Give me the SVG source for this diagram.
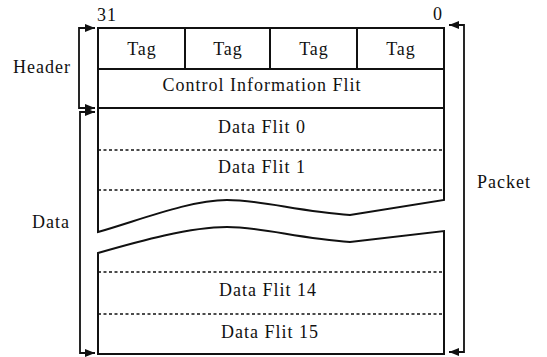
<svg xmlns="http://www.w3.org/2000/svg" width="547" height="357" viewBox="0 0 547 357">
<style>
  text { font-family: "Liberation Serif", "Times New Roman", serif; font-size: 18px; letter-spacing: 1px; fill: #111; }
  .c { text-anchor: middle; }
  .box { fill: none; stroke: #111; stroke-width: 2; stroke-linejoin: miter; }
  .dash { fill: none; stroke: #111; stroke-width: 1.4; stroke-dasharray: 3 2.5; }
  .br { fill: none; stroke: #111; stroke-width: 1.8; }
</style>
<defs>
  <marker id="ah" viewBox="0 0 10 8" refX="10" refY="4" markerWidth="11" markerHeight="8" markerUnits="userSpaceOnUse" orient="auto-start-reverse">
    <path d="M0,0 L10,4 L0,8 z" fill="#111"/>
  </marker>
</defs>
<rect width="547" height="357" fill="#fff"/>

<g id="bitlabels">
  <text x="97" y="21">31</text>
  <text x="433" y="20">0</text>
</g>

<g id="header">
  <rect class="box" x="98" y="28" width="346" height="80"/>
  <line class="box" x1="98" y1="69" x2="444" y2="69"/>
  <line class="box" x1="185" y1="28" x2="185" y2="69"/>
  <line class="box" x1="270" y1="28" x2="270" y2="69"/>
  <line class="box" x1="357" y1="28" x2="357" y2="69"/>
  <text class="c" x="142" y="55">Tag</text>
  <text class="c" x="228" y="55">Tag</text>
  <text class="c" x="314" y="55">Tag</text>
  <text class="c" x="401" y="55">Tag</text>
  <text class="c" x="262" y="91">Control Information Flit</text>
</g>

<g id="data-top">
  <path class="box" d="M98,108 V232 C140,220 190,200 227,200 C262,200 300,212 350,215 L444,200 V108"/>
  <line class="dash" x1="98" y1="150" x2="444" y2="150"/>
  <line class="dash" x1="98" y1="190" x2="444" y2="190"/>
  <text class="c" x="262" y="133">Data Flit 0</text>
  <text class="c" x="262" y="173">Data Flit 1</text>
</g>

<g id="data-bottom">
  <path class="box" d="M98,253 C140,241 190,227 227,227 C262,227 300,239 350,242 L444,231 V354 H98 Z"/>
  <line class="dash" x1="98" y1="272" x2="444" y2="272"/>
  <line class="dash" x1="98" y1="314" x2="444" y2="314"/>
  <text class="c" x="268" y="296">Data Flit 14</text>
  <text class="c" x="270" y="338">Data Flit 15</text>
</g>

<g id="labels">
  <text x="13" y="73">Header</text>
  <text x="32" y="228">Data</text>
  <text x="477" y="188">Packet</text>
</g>

<g id="connectors">
  <path class="br" d="M95,28 H79 V108 H95" marker-start="url(#ah)" marker-end="url(#ah)"/>
  <path class="br" d="M95,112 H80 V353 H95" marker-start="url(#ah)" marker-end="url(#ah)"/>
  <path class="br" d="M449,25 H464 V352 H449" marker-start="url(#ah)" marker-end="url(#ah)"/>
</g>
</svg>
